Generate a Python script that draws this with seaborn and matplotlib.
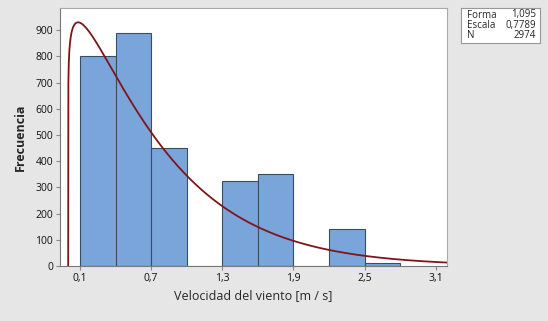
import numpy as np
import pandas as pd
import matplotlib
matplotlib.use("Agg")
import matplotlib.pyplot as plt
import seaborn as sns

# histogram data
bin_edges = [0.1, 0.4, 0.7, 1.0, 1.3, 1.6, 1.9, 2.2, 2.5, 2.8]
counts = [800, 890, 452, 0, 325, 353, 0, 143, 11]
bin_centers = [(a + b) / 2 for a, b in zip(bin_edges[:-1], bin_edges[1:])]

# fitted Weibull parameters shown in the box
forma = 1.095
escala = 0.7789
n_total = 2974

x_ticks = [0.1, 0.7, 1.3, 1.9, 2.5, 3.1]
y_ticks = [0, 100, 200, 300, 400, 500, 600, 700, 800, 900]

sns.set_style("white")
plt.rcParams['font.family'] = ['Open Sans', 'DejaVu Sans']

fig = plt.figure(figsize=(5.48, 3.21), dpi=100, facecolor="#e6e6e6")
ax = fig.add_axes([60 / 548, 1 - 266 / 321, (447 - 60) / 548, (266 - 8) / 321])
ax.set_facecolor("white")

hist_df = pd.DataFrame({"vel": bin_centers, "n": counts})
sns.histplot(data=hist_df, x="vel", weights="n", bins=bin_edges, ax=ax,
             color="#79a5da", edgecolor="#3b4d63", linewidth=0.8, alpha=1)

# Weibull fit curve, scaled to counts per bin
width = bin_edges[1] - bin_edges[0]
xs = np.linspace(0, 3.2, 2000)
pdf = (forma / escala) * (xs / escala) ** (forma - 1) * np.exp(-(xs / escala) ** forma)
curve_df = pd.DataFrame({"vel": xs, "frec": pdf * n_total * width})
sns.lineplot(data=curve_df, x="vel", y="frec", ax=ax, color="#7f1518", linewidth=1.3)

ax.set_xlim(-0.069, 3.195)
ax.set_ylim(0, 985)
ax.set_xticks(x_ticks)
ax.set_xticklabels([f"{t:.1f}".replace(".", ",") for t in x_ticks])
ax.set_yticks(y_ticks)
ax.tick_params(axis="both", labelsize=7.5, length=3, color="#888888", direction="out",
               bottom=True, left=True, pad=2, labelcolor="#111111")
ax.set_xlabel("Velocidad del viento [m / s]", fontsize=9, labelpad=4)
ax.set_ylabel("Frecuencia", fontsize=9, fontweight="bold", labelpad=6)

for side in ["left", "bottom"]:
    ax.spines[side].set_color("#777777")
for side in ["top", "right"]:
    ax.spines[side].set_color("#aaaaaa")
for s in ax.spines.values():
    s.set_linewidth(0.8)

# parameter box
box = fig.add_axes([461 / 548, 1 - 43 / 321, (540 - 461) / 548, (43 - 8) / 321])
box.set_xticks([])
box.set_yticks([])
box.set_facecolor("white")
for s in box.spines.values():
    s.set_color("#999999")
    s.set_linewidth(0.8)
rows = [("Forma", "1,095"), ("Escala", "0,7789"), ("N", str(n_total))]
for i, (k, v) in enumerate(rows):
    yy = 0.8 - i * 0.3
    box.text(0.08, yy, k, fontsize=7, va="center", ha="left", transform=box.transAxes)
    box.text(0.95, yy, v, fontsize=7, va="center", ha="right", transform=box.transAxes)

fig.savefig("out.png", dpi=100, facecolor=fig.get_facecolor())
